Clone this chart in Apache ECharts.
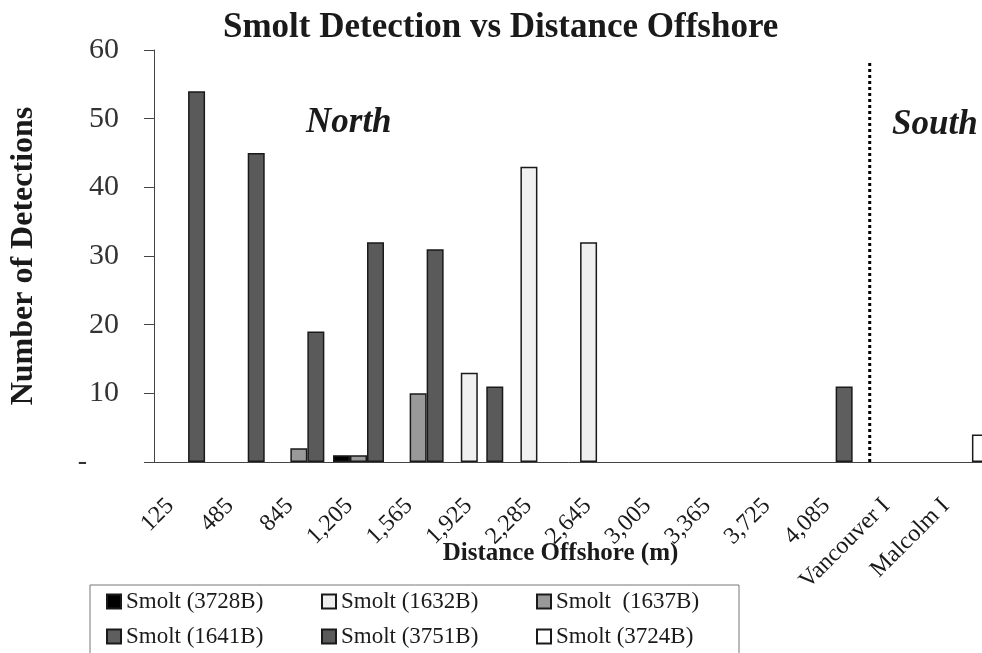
<!DOCTYPE html>
<html>
<head>
<meta charset="utf-8">
<script src="https://cdn.jsdelivr.net/npm/echarts@6/dist/echarts.min.js"></script>
<style>
  html, body { margin: 0; padding: 0; background: #fff; }
  #smoltchart { width: 982px; height: 653px; }
</style>
</head>
<body>
<div id="smoltchart"></div>
<script>
// distance offshore categories (m), plus the two island sites
const categories = ['125', '485', '845', '1,205', '1,565', '1,925', '2,285', '2,645',
  '3,005', '3,365', '3,725', '4,085', 'Vancouver I', 'Malcolm I'];

// detections per smolt tag (null = nothing detected there)
const smolt3728B = [null, null, null, 1, null, null, null, null, null, null, null, null, null, null];
const smolt1632B = [null, null, null, null, null, 13, 43, 32, null, null, null, null, null, null];
const smolt1637B = [null, null, 2, 1, 10, null, null, null, null, null, null, null, null, null];
const smolt1641B = [null, null, null, null, null, null, null, null, null, null, null, 11, null, null];
const smolt3751B = [54, 45, 19, 32, 31, 11, null, null, null, null, null, null, null, null];
const smolt3724B = [null, null, null, null, null, null, null, null, null, null, null, null, null, 4];

const yTicks = [0, 10, 20, 30, 40, 50, 60];
const dividerTop = 58.5;

const serif = '"Liberation Serif", "Times New Roman", serif';
const dividerAt = categories.indexOf('Vancouver I');

let myChart = echarts.init(document.getElementById('smoltchart'));

const makeBar = (name, data, color) => {
  return {
    name: name,
    type: 'bar',
    data: data,
    barWidth: 17,
    barGap: '-50%',
    itemStyle: {
      color: color,
      borderColor: '#1a1a1a',
      borderWidth: 1.5
    }
  };
};

let option = {
  animation: false,
  backgroundColor: '#fff',
  title: {
    text: 'Smolt Detection vs Distance Offshore',
    left: 218,
    top: 5,
    textStyle: { fontFamily: serif, fontSize: 35, fontWeight: 'bold', color: '#1a1a1a' }
  },
  grid: {
    left: 154,
    right: -7,
    top: 50,
    bottom: 191,
    outerBoundsMode: 'none'
  },
  legend: {
    data: ['Smolt (3728B)', 'Smolt (1632B)', 'Smolt  (1637B)', 'Smolt (1641B)', 'Smolt (3751B)', 'Smolt (3724B)'],
    left: 90,
    top: 585,
    width: 640,
    orient: 'horizontal',
    padding: [5, 0, 10, 16],
    itemGap: 12,
    itemWidth: 14,
    itemHeight: 14,
    icon: 'rect',
    borderColor: '#777',
    borderWidth: 1,
    textStyle: {
      fontFamily: serif,
      fontSize: 23,
      color: '#1a1a1a',
      width: 183,
      lineHeight: 23
    }
  },
  graphic: [
    {
      type: 'text', left: 306, top: 105,
      style: { text: 'North', font: 'italic bold 35px "Liberation Serif", serif', fill: '#1a1a1a' }
    },
    {
      type: 'text', left: 892, top: 107,
      style: { text: 'South', font: 'italic bold 35px "Liberation Serif", serif', fill: '#1a1a1a' }
    }
  ],
  xAxis: [
    {
      type: 'category',
      data: categories,
      name: 'Distance Offshore (m)',
      nameLocation: 'middle',
      nameGap: 79,
      nameMoveOverlap: false,
      nameTextStyle: { fontFamily: serif, fontSize: 25, fontWeight: 'bold', color: '#1a1a1a', padding: [0, 22, 0, 0] },
      axisLine: { lineStyle: { color: '#444', width: 1 } },
      axisTick: { length: 8, lineStyle: { color: '#444' } },
      axisLabel: {
        rotate: 45,
        margin: 27,
        padding: [0, 19, 0, 0],
        interval: 0,
        fontFamily: serif,
        fontSize: 24,
        color: '#1a1a1a'
      }
    },
    {
      type: 'value',
      min: 0,
      max: categories.length,
      show: false
    }
  ],
  yAxis: {
    type: 'value',
    min: yTicks[0],
    max: yTicks[yTicks.length - 1],
    interval: 10,
    name: 'Number of Detections',
    nameLocation: 'middle',
    nameGap: 114,
    nameMoveOverlap: false,
    nameTextStyle: { fontFamily: serif, fontSize: 32, fontWeight: 'bold', color: '#1a1a1a' },
    splitLine: { show: false },
    axisLine: { show: true, lineStyle: { color: '#444', width: 1 } },
    axisTick: { show: true, length: 10, lineStyle: { color: '#444' } },
    axisLabel: {
      margin: 35,
      fontFamily: serif,
      fontSize: 30,
      color: '#333',
      formatter: function (v) {
        return v === 0 ? '{dash|-}' : String(v);
      },
      rich: {
        dash: { fontFamily: serif, fontSize: 28, color: '#333', padding: [0, 32, 0, 0] }
      }
    }
  },
  series: [
    makeBar('Smolt (3728B)', smolt3728B, '#000000'),
    makeBar('Smolt (1632B)', smolt1632B, '#f0f0f0'),
    makeBar('Smolt  (1637B)', smolt1637B, '#999999'),
    makeBar('Smolt (1641B)', smolt1641B, '#5e5e5e'),
    makeBar('Smolt (3751B)', smolt3751B, '#5a5a5a'),
    makeBar('Smolt (3724B)', smolt3724B, '#ffffff'),
    {
      name: 'divider',
      type: 'line',
      xAxisIndex: 1,
      data: [[dividerAt, 0], [dividerAt, dividerTop]],
      symbol: 'none',
      silent: true,
      lineStyle: { color: '#000', width: 3, type: [3, 3], cap: 'butt' }
    }
  ]
};

option && myChart.setOption(option);
</script>
</body>
</html>
